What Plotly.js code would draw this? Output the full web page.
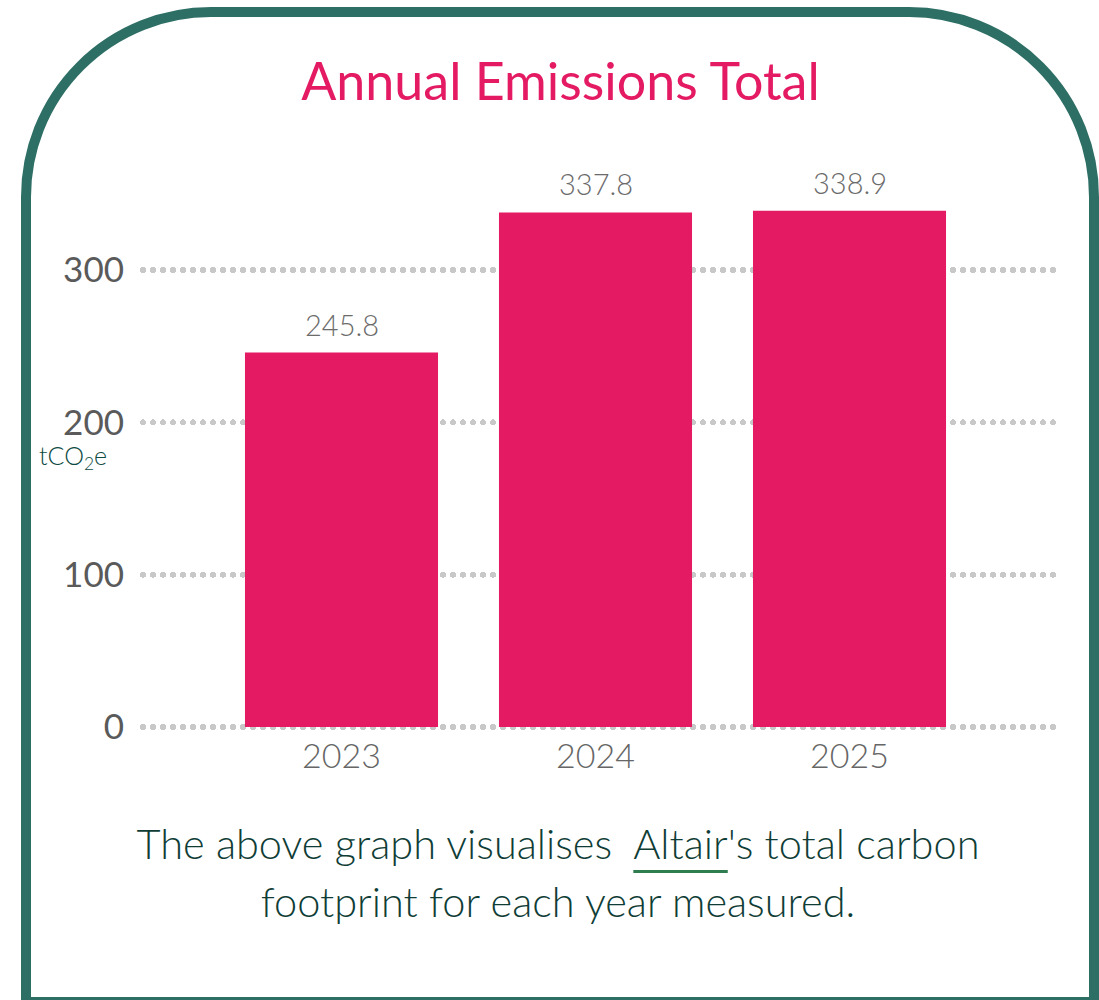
<!DOCTYPE html>
<html>
<head>
<meta charset="utf-8">
<script src="https://cdn.plot.ly/plotly-3.0.1.min.js"></script>
<style>
  html, body { margin: 0; padding: 0; width: 1099px; height: 1000px; overflow: hidden; background: #ffffff; }
  #card {
    position: absolute; left: 21px; top: 7px; width: 1078px; height: 1000px;
    box-sizing: border-box; border: 10px solid #2e6f65; border-radius: 190px 190px 0 0;
    background: #ffffff;
  }
  #chart { position: absolute; left: 0; top: 0; width: 1099px; height: 1000px; }
  #caption {
    position: absolute; left: 40px; width: 1036px; top: 814px; text-align: center;
    font-family: "Lato", sans-serif; font-weight: 300; font-size: 41.5px; line-height: 58px;
    color: #0f3d36; white-space: nowrap;
  }
  #caption .u { text-decoration: underline; text-decoration-color: #2e7d4f; text-decoration-thickness: 3px; text-underline-offset: 11px; }
  .gridlayer path { stroke-linecap: round; }
  .zerolinelayer path { stroke-linecap: round !important; stroke-dasharray: 0px 10px !important; }
</style>
</head>
<body>
<div id="card"></div>
<div id="chart"></div>
<div id="caption">The above graph visualises&nbsp; <span class="u">Altair</span>'s total carbon<br>footprint for each year measured.</div>
<script>
const years = ["2023", "2024", "2025"];
const totals = [245.8, 337.8, 338.9];
const valueLabels = ["245.8", "337.8", "338.9"];
const yTicks = [0, 100, 200, 300];
const titleText = "Annual Emissions Total";
const unitText = "tCO<sub>2</sub>e";

const FONT = "Lato, sans-serif";
const trace = {
  type: "bar",
  x: years,
  y: totals,
  width: 0.76,
  marker: { color: "#e41b63" },
  hoverinfo: "none"
};

const annotations = years.map((yr, i) => ({
  x: i, y: totals[i], xref: "x", yref: "y",
  text: valueLabels[i], showarrow: false,
  xanchor: "center", yanchor: "bottom", yshift: 9,
  font: { family: FONT, size: 29, color: "#6b6b6b", weight: 300 }
}));
annotations.push({
  xref: "paper", yref: "y", x: -0.077, y: 177, text: unitText, showarrow: false,
  xanchor: "center", yanchor: "middle",
  font: { family: FONT, size: 25, color: "#0d4a42", weight: 300 }
});

const layout = {
  width: 1099, height: 1000,
  paper_bgcolor: "rgba(0,0,0,0)", plot_bgcolor: "rgba(0,0,0,0)",
  margin: { l: 143, r: 42, t: 150, b: 273, pad: 0 },
  showlegend: false,
  title: {
    text: titleText, x: 0.51, xanchor: "center", y: 0.918, yanchor: "middle", yref: "container",
    font: { family: FONT, size: 52, color: "#e41b63", weight: 400 }
  },
  xaxis: {
    type: "category", range: [-0.7815, 2.8169], showgrid: false, zeroline: false,
    showline: false, ticks: "", ticklabelstandoff: 6,
    tickfont: { family: FONT, size: 34, color: "#666666", weight: 300 },
    fixedrange: true
  },
  yaxis: {
    range: [0, 378.8], tickvals: yTicks, ticktext: yTicks.map(String),
    showgrid: true, gridcolor: "#c8c8c8", gridwidth: 6, griddash: "0px,10px",
    zeroline: true, zerolinecolor: "#c8c8c8", zerolinewidth: 6,
    showline: false, ticks: "", ticklabelstandoff: 18,
    tickfont: { family: FONT, size: 35, color: "#5a5a5a", weight: 400 },
    fixedrange: true
  },
  annotations: annotations,
  bargap: 0.24
};

Plotly.newPlot("chart", [trace], layout, { displayModeBar: false, staticPlot: true });
</script>
</body>
</html>
